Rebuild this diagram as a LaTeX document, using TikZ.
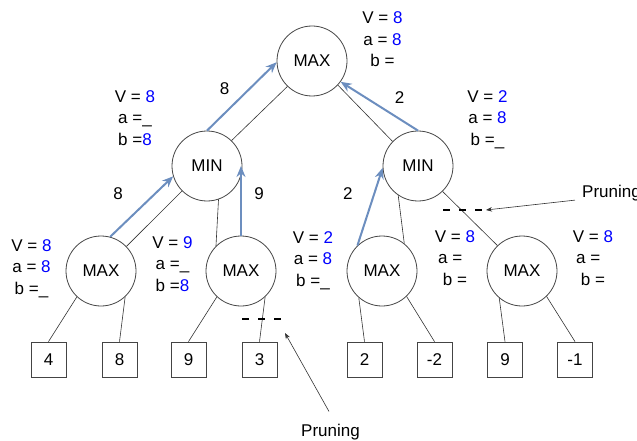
\documentclass[tikz,border=0pt]{standalone}
\usepackage{fontspec}
\setmainfont{Liberation Sans}
\usetikzlibrary{arrows.meta,calc}
\definecolor{arrowblue}{HTML}{6C8EBF}
\definecolor{valblue}{HTML}{0000FF}
\definecolor{linegray}{HTML}{333333}
\definecolor{circgray}{HTML}{444444}
\newcommand{\vb}[1]{\textcolor{valblue}{#1}}
\begin{document}
\begin{tikzpicture}[x=1pt,y=-1pt,
  font=\fontsize{17}{21.5}\selectfont,
  gnode/.style={circle, draw=circgray, line width=0.8pt, minimum size=70pt, inner sep=0pt},
  leaf/.style={rectangle, draw=circgray, line width=0.8pt, minimum size=35pt, inner sep=0pt},
  edge/.style={draw=linegray, line width=0.6pt},
  upflow/.style={draw=arrowblue, line width=2pt, -{Stealth[length=11pt,width=9pt]}},
  prune/.style={draw=black, line width=1.6pt, dash pattern=on 7pt off 9pt},
  pointer/.style={draw=linegray, line width=0.6pt, -{Stealth[length=6pt,width=4.5pt]}},
  info/.style={align=center, anchor=north, inner sep=0pt},
  elabel/.style={inner sep=0pt}]
\useasboundingbox (0,0) rectangle (637,441);

% tree nodes
\node[gnode] (root) at (312,61) {MAX};
\node[gnode] (minL) at (207,166) {MIN};
\node[gnode] (minR) at (418,166) {MIN};
\node[gnode] (max1) at (101,271) {MAX};
\node[gnode] (max2) at (241,271) {MAX};
\node[gnode] (max3) at (382,271) {MAX};
\node[gnode] (max4) at (522,271) {MAX};

% leaves
\node[leaf] (l1) at (48.5,359.5) {4};
\node[leaf] (l2) at (119.5,359.5) {8};
\node[leaf] (l3) at (188.5,359.5) {9};
\node[leaf] (l4) at (259.5,359.5) {3};
\node[leaf] (l5) at (364.5,359.5) {2};
\node[leaf] (l6) at (434.5,359.5) {-2};
\node[leaf] (l7) at (505,359.5) {9};
\node[leaf] (l8) at (575,359.5) {-1};

% tree edges
\draw[edge] (root.226) -- (minL.46);
\draw[edge] (root.317) -- (minR.136);
\draw[edge] (minL.225) -- (max1.44);
\draw[edge] (minL.289) -- (max2.135);
\draw[edge] (minR.236) -- (max3.51);
\draw[edge] (minR.314) -- (max4.134);
\draw[edge] (max1.227) -- (l1.north);
\draw[edge] (max1.313) -- (l2.north);
\draw[edge] (max2.227) -- (l3.north);
\draw[edge] (max2.313) -- (l4.north);
\draw[edge] (max3.229) -- (l5.north);
\draw[edge] (max3.314) -- (l6.north);
\draw[edge] (max4.230) -- (l7.north);
\draw[edge] (max4.314) -- (l8.north);

% value flow arrows
\draw[upflow] (minL.north) -- (root.182);
\draw[upflow] (minR.north) -- (root.324);
\draw[upflow] (max1.75) -- (minL.197);
\draw[upflow] (max2.north) -- (max2.north |- minL.east);
\draw[upflow] (max3.134) -- (minR.183);

% edge labels
\node[elabel] (e1) at (224.5,88.8) {8};
\node[elabel] (e2) at (399.5,97.5) {2};
\node[elabel] (e3) at (118,193.7) {8};
\node[elabel] (e4) at (259,193.7) {9};
\node[elabel] (e5) at (347.8,194) {2};

% info labels
\node[info] (iroot) at (382.5,11.5) {V = \vb{8}\\a = \vb{8}\\b =};
\node[info] (iminL) at (135,90) {V = \vb{8}\\a =\_\\b =\vb{8}};
\node[info] (iminR) at (487.5,90) {V = \vb{2}\\a = \vb{8}\\b =\_};
\node[info] (imax1) at (31.5,239) {V = \vb{8}\\a = \vb{8}\\b =\_};
\node[info] (imax2) at (172.5,236) {V = \vb{9}\\a =\_\\b =\vb{8}};
\node[info] (imax3) at (313,231) {V = \vb{2}\\a = \vb{8}\\b =\_};
\node[info] (imax4) at (455,230) {V = \vb{8}\\a =\phantom{8}\\b =};
\node[info] (iright) at (593,230) {V = \vb{8}\\a =\phantom{8}\\b =};

% pruning marks
\coordinate (d1a) at (443,210);
\coordinate (d1b) at (483,210);
\coordinate (d1tip) at (486,210);
\draw[prune] (d1a) -- (d1b);
\coordinate (d2a) at (242,319);
\coordinate (d2b) at (281,319);
\coordinate (d2tip) at (285,333);
\draw[prune] (d2a) -- (d2b);

\node[inner sep=0pt, anchor=west] (prunR) at (582,193) {Pruning};
\node[inner sep=0pt, anchor=base] (prunB) at (330.5,436) {Pruning};
\draw[pointer] ($(prunR.south west)+(-7,-1)$) -- (d1tip);
\draw[pointer] ($(prunB.north)+(-1.5,-12)$) -- (d2tip);
\end{tikzpicture}
\end{document}
